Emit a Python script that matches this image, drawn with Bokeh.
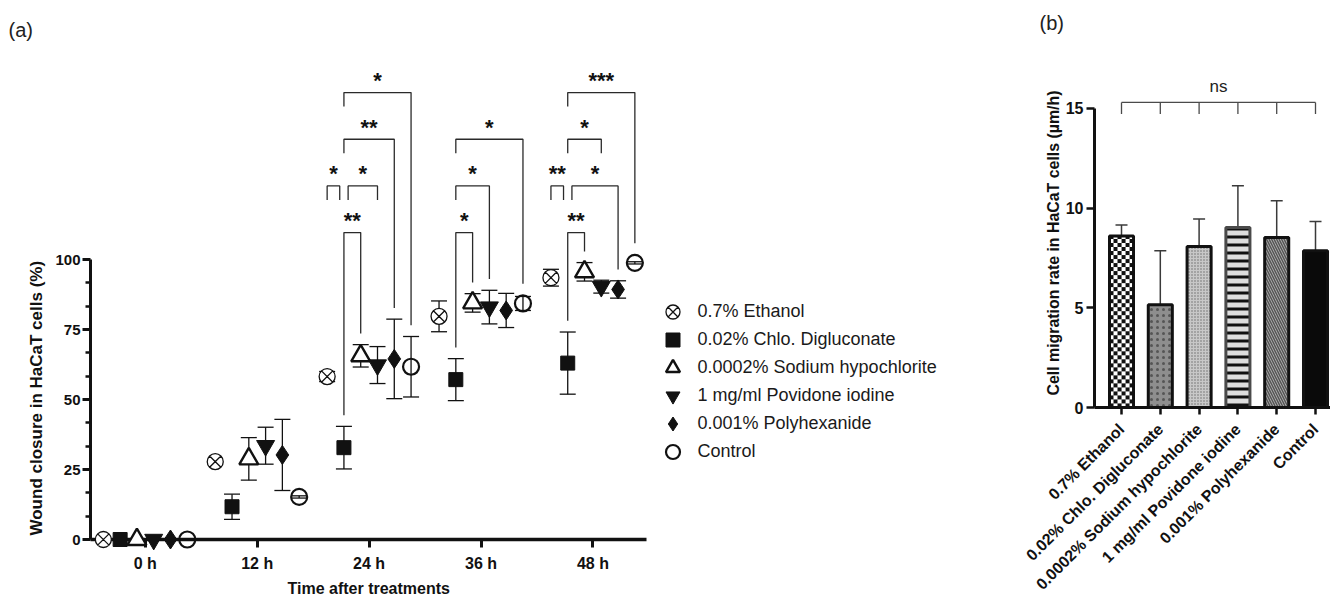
import math
import numpy as np
from bokeh.plotting import figure
from bokeh.models import (ColumnDataSource, Whisker, TeeHead, Legend, LegendItem, Title,
                          FixedTicker, Range1d)
from bokeh.layouts import row, column
from bokeh.embed import file_html
from bokeh.resources import INLINE
from bokeh.core.properties import value

FONT = "Liberation Sans"
INK = "#111111"

# ---------------- data: (a) wound closure (%) ----------------
treatments = ["0.7% Ethanol", "0.02% Chlo. Digluconate", "0.0002% Sodium hypochlorite",
              "1 mg/ml Povidone iodine", "0.001% Polyhexanide", "Control"]
hours = [0, 12, 24, 36, 48]
hour_labels = ["0 h", "12 h", "24 h", "36 h", "48 h"]

ethanol_mean = [0, 27.8, 58.2, 79.7, 93.5]
ethanol_sd = [0, 0, 1.8, 5.5, 3.0]
chlo_mean = [0, 11.7, 32.8, 57.1, 63.0]
chlo_sd = [0, 4.5, 7.6, 7.5, 11.1]
sodium_mean = [0, 28.8, 65.6, 84.5, 95.6]
sodium_sd = [0, 7.6, 4.0, 3.3, 3.3]
povidone_mean = [0, 33.5, 62.3, 83.0, 90.3]
povidone_sd = [0, 6.6, 6.6, 6.0, 2.3]
polyhex_mean = [0, 30.2, 64.5, 81.8, 89.3]
polyhex_sd = [0, 12.7, 14.2, 6.1, 3.1]
control_mean = [0, 15.2, 61.7, 84.3, 98.8]
control_sd = [0, 0.4, 10.8, 2.5, 0.4]

# significance comparisons in (a): time, group a, group b, stars
cmp_hour = [24, 24, 24, 24, 24, 36, 36, 36, 48, 48, 48, 48, 48]
cmp_a = [1, 1, 0, 1, 1, 1, 1, 1, 1, 1, 0, 1, 1]
cmp_b = [5, 4, 1, 3, 2, 5, 3, 2, 5, 3, 1, 4, 2]
cmp_stars = ["*", "**", "*", "*", "**", "*", "*", "*", "***", "*", "**", "*", "**"]

# ---------------- data: (b) cell migration rate (um/h) ----------------
rate_mean = [8.6, 5.15, 8.07, 9.03, 8.53, 7.86]
rate_sd = [0.55, 2.71, 1.38, 2.09, 1.84, 1.47]
rate_test = "ns"

means = [ethanol_mean, chlo_mean, sodium_mean, povidone_mean, polyhex_mean, control_mean]
sds = [ethanol_sd, chlo_sd, sodium_sd, povidone_sd, polyhex_sd, control_sd]

# ---------------- layout / style ----------------
W_A, W_B, H = 1010, 320, 606
A_TOP, B_TOP = 60, 46
A_LEFT, A_BOTTOM, A_PXH, A_PXY = 90, 67, 9.325, 2.8
B_LEFT, B_BOTTOM, B_PXX, B_PXY = 84, 199, 38.8, 19.94
DODGE = 1.8
NUDGE = 0.45
GAP = 4.0
SHORT = 5.0
LEVEL0, LEVEL_STEP = 109.6, 16.67
STAR_LIFT = 4.3
BAR_W = 0.62

cmp_level = [4, 3, 2, 2, 1, 3, 2, 1, 4, 3, 2, 2, 1]
cmp_long_a = [0, 0, 0, 0, 1, 0, 0, 1, 0, 0, 0, 0, 1]
cmp_long_b = [1, 1, 0, 0, 1, 1, 1, 1, 1, 0, 0, 1, 1]
cmp_nudge_a = [0, 0, 0, 1, 0, 0, 0, 0, 0, 0, 0, 1, 0]
cmp_nudge_b = [0, 0, -1, 0, 0, 0, 0, 0, 0, 0, -1, 0, 0]

marker_styles = [
    dict(marker="circle_x", size=16, fill_color="white", line_width=1.3),
    dict(marker="square", size=14, fill_color=INK, line_width=1),
    dict(marker="triangle", size=19, fill_color="white", line_width=2.4),
    dict(marker="inverted_triangle", size=18, fill_color=INK, line_width=1),
    dict(marker="diamond", size=19, fill_color=INK, line_width=1),
    dict(marker="circle", size=16, fill_color=None, line_width=2.2),
]


def style_title(t, offset, standoff):
    t.align = "left"
    t.offset = offset
    t.vertical_align = "top"
    t.standoff = standoff
    t.text_font = FONT
    t.text_font_size = "20px"
    t.text_font_style = "normal"
    t.text_color = "#222222"


def style_axis(ax, lw, tick_w, tick_out, font_size, standoff):
    ax.axis_line_width = lw
    ax.axis_line_color = INK
    ax.major_tick_line_width = tick_w
    ax.major_tick_line_color = INK
    ax.major_tick_out = tick_out
    ax.major_tick_in = 0
    ax.minor_tick_out = 0
    ax.minor_tick_in = 0
    ax.major_label_standoff = standoff
    ax.major_label_text_font = FONT
    ax.major_label_text_font_style = "bold"
    ax.major_label_text_font_size = font_size
    ax.major_label_text_color = INK


# ================= panel (a) =================
x_start = -5.877
pa = figure(width=W_A, height=H, output_backend="svg", toolbar_location=None, title="(a)",
            x_range=Range1d(x_start, x_start + (W_A - A_LEFT) / A_PXH),
            y_range=Range1d(0, (H - A_TOP - A_BOTTOM) / A_PXY),
            min_border_left=A_LEFT, min_border_right=0,
            min_border_top=A_TOP, min_border_bottom=A_BOTTOM)
pa.grid.visible = False
pa.outline_line_color = None
pa.background_fill_color = "white"
pa.border_fill_color = "white"
style_title(pa.title, -82, 35)

xa = pa.xaxis[0]
xa.bounds = (x_start, 53.8)
xa.ticker = FixedTicker(ticks=hours)
xa.major_label_overrides = {h: lab for h, lab in zip(hours, hour_labels)}
style_axis(xa, 3.5, 3, 8, "16px", 7)

ya = pa.yaxis[0]
ya.bounds = (0, 100)
ya.ticker = FixedTicker(ticks=[0, 25, 50, 75, 100],
                        minor_ticks=[k * 25 / 3 for k in range(13) if k % 3])
style_axis(ya, 3, 3, 8, "15px", 2)
ya.minor_tick_line_width = 2.5
ya.minor_tick_line_color = INK
ya.minor_tick_out = 5

pa.add_layout(Title(text="Wound closure in HaCaT cells (%)", align="left", offset=4,
                    vertical_align="bottom", standoff=13, text_font=FONT, text_font_style="bold",
                    text_font_size="17px", text_color=INK), "left")
pa.add_layout(Title(text="Time after treatments", align="left", offset=197,
                    vertical_align="top", standoff=10, text_font=FONT, text_font_style="bold",
                    text_font_size="16px", text_color=INK), "below")

legend_items = []
for k, name in enumerate(treatments):
    xs = [h + (k - 2.5) * DODGE for h in hours]
    ys = means[k]
    wx, wlo, wup = [], [], []
    for x, m, s in zip(xs, ys, sds[k]):
        if s > 0:
            wx.append(x); wlo.append(m - s); wup.append(m + s)
    if wx:
        wsrc = ColumnDataSource(dict(x=wx, lo=wlo, up=wup))
        pa.add_layout(Whisker(source=wsrc, base="x", lower="lo", upper="up", dimension="height",
                              line_color=INK, line_width=1.3,
                              upper_head=TeeHead(size=16, line_width=1.3, line_color=INK),
                              lower_head=TeeHead(size=16, line_width=1.3, line_color=INK)))
    st = marker_styles[k]
    r = pa.scatter(x=xs, y=ys, marker=st["marker"], size=st["size"], level="overlay",
                   fill_color=st["fill_color"], line_color=INK, line_width=st["line_width"])
    legend_items.append(LegendItem(label=name, renderers=[r]))


def top_of(k, hi):
    return means[k][hi] + max(sds[k][hi], 3.0)


b_xs, b_ys, t_x, t_y = [], [], [], []
for n in range(len(cmp_hour)):
    hi = hours.index(cmp_hour[n])
    a, b = cmp_a[n], cmp_b[n]
    xl = cmp_hour[n] + (a - 2.5) * DODGE + cmp_nudge_a[n] * NUDGE
    xr = cmp_hour[n] + (b - 2.5) * DODGE + cmp_nudge_b[n] * NUDGE
    lev = LEVEL0 + (cmp_level[n] - 1) * LEVEL_STEP
    yl = top_of(a, hi) + GAP if cmp_long_a[n] else lev - SHORT
    yr = top_of(b, hi) + GAP if cmp_long_b[n] else lev - SHORT
    b_xs.append([xl, xl, xr, xr])
    b_ys.append([yl, lev, lev, yr])
    t_x.append((xl + xr) / 2)
    t_y.append(lev + STAR_LIFT)

pa.multi_line(xs=b_xs, ys=b_ys, line_color="#2a2a2a", line_width=1.3)
pa.text(x=t_x, y=t_y, text=cmp_stars, text_font=value(FONT), text_font_style="bold",
        text_font_size="22px", text_align="center", text_baseline="alphabetic", text_color=INK)

# legend: two interleaved columns of entries so that markers keep a 14 px size
# while rows stay 28 px apart (odd rows in one legend, even rows in the other)
leg_kw = dict(orientation="vertical", padding=0, margin=0, spacing=21,
              glyph_width=35, glyph_height=35, label_height=35, label_standoff=8,
              label_text_font=FONT, label_text_font_size="18px", label_text_color="#1a1a1a",
              border_line_color=None, background_fill_alpha=0)
pa.add_layout(Legend(items=legend_items[0::2], location=(564.5, 98.5), **leg_kw))
pa.add_layout(Legend(items=legend_items[1::2], location=(564.5, 70.5), **leg_kw))

# ================= panel (b) =================
idx = list(range(len(treatments)))
pb = figure(width=W_B, height=H, output_backend="svg", toolbar_location=None, title="(b)",
            x_range=Range1d(-0.696, -0.696 + (W_B - B_LEFT) / B_PXX),
            y_range=Range1d(0, (H - B_TOP - B_BOTTOM) / B_PXY),
            min_border_left=B_LEFT, min_border_right=0, min_border_top=B_TOP,
            min_border_bottom=B_BOTTOM)
pb.grid.visible = False
pb.outline_line_color = None
pb.background_fill_color = "white"
pb.border_fill_color = "white"
style_title(pb.title, -55, 21)

for f in (pa, pb):
    try:
        f.frame_align = False
    except AttributeError:
        pass

bar_styles = [
    dict(fill_color="white", line_color=INK, hatch_pattern=None, hatch_color=INK,
         hatch_scale=8, hatch_weight=3),
    dict(fill_color="#8e8e8e", line_color=INK, hatch_pattern="dot", hatch_color="#555555",
         hatch_scale=6, hatch_weight=1.6),
    dict(fill_color="#c8c8c8", line_color=INK, hatch_pattern="dot", hatch_color="#6a6a6a",
         hatch_scale=3, hatch_weight=1.2),
    dict(fill_color="#dedede", line_color="#4a4a4a", hatch_pattern="horizontal_line",
         hatch_color=INK, hatch_scale=8, hatch_weight=3),
    dict(fill_color="#b4b4b4", line_color=INK, hatch_pattern="left_diagonal_line",
         hatch_color="#555555", hatch_scale=5, hatch_weight=1.5),
    dict(fill_color="#0a0a0a", line_color=INK, hatch_pattern=None, hatch_color=INK,
         hatch_scale=5, hatch_weight=1),
]

wsrc_b = ColumnDataSource(dict(x=idx, lo=rate_mean, up=[m + s for m, s in zip(rate_mean, rate_sd)]))
pb.add_layout(Whisker(source=wsrc_b, base="x", lower="lo", upper="up", dimension="height",
                      line_color="#3a3a3a", line_width=1.5,
                      upper_head=TeeHead(size=12, line_width=1.5, line_color="#3a3a3a"),
                      lower_head=None))

for i in idx:
    st = bar_styles[i]
    kw = dict(fill_color=st["fill_color"], line_color=st["line_color"], line_width=3)
    if st["hatch_pattern"]:
        kw.update(hatch_pattern=st["hatch_pattern"], hatch_color=st["hatch_color"],
                  hatch_scale=st["hatch_scale"], hatch_weight=st["hatch_weight"])
    if i == 0:
        # checkerboard fill for the ethanol bar, at screen resolution (4 px cells)
        pw = int(round(BAR_W * B_PXX))
        ph = int(round(rate_mean[i] * B_PXY))
        yy, xx = np.mgrid[0:ph, 0:pw]
        dark = ((yy // 4 + xx // 4) % 2) == 0
        rgba = np.zeros((ph, pw, 4), dtype=np.uint8)
        rgba[..., 3] = 255
        rgba[..., 0:3] = np.where(dark[..., None], 17, 255)
        img = rgba.view(dtype=np.uint32).reshape((ph, pw))
        pb.image_rgba(image=[img], x=idx[i] - BAR_W / 2, y=0, dw=BAR_W, dh=rate_mean[i])
        kw["fill_color"] = None
    pb.vbar(x=[idx[i]], top=[rate_mean[i]], bottom=0, width=BAR_W, **kw)

xb = pb.xaxis[0]
xb.ticker = FixedTicker(ticks=idx)
xb.major_label_overrides = {i: t for i, t in zip(idx, treatments)}
xb.major_label_orientation = math.pi / 4
style_axis(xb, 3, 2.5, 7, "16px", 12)

yb = pb.yaxis[0]
yb.bounds = (0, 15)
yb.ticker = FixedTicker(ticks=[0, 5, 10, 15])
style_axis(yb, 3, 2.5, 8, "16px", 3)

pb.add_layout(Title(text="Cell migration rate in HaCaT cells (µm/h)", align="left", offset=12,
                    vertical_align="bottom", standoff=1, text_font=FONT, text_font_style="bold",
                    text_font_size="15.9px", text_color=INK), "left")

ns_y, ns_leg = 15.3, 14.72
ns_xs = [[idx[0], idx[-1]]] + [[i, i] for i in idx]
ns_ys = [[ns_y, ns_y]] + [[ns_y, ns_leg] for _ in idx]
pb.multi_line(xs=ns_xs, ys=ns_ys, line_color="#4a4a4a", line_width=1.3)
pb.text(x=[(idx[0] + idx[-1]) / 2], y=[16.1], text=[rate_test], text_font=value(FONT),
        text_font_size="17px", text_align="center", text_baseline="middle", text_color="#222222")

layout = row(pa, column(pb))
open("out.html", "w").write(file_html(layout, INLINE))
